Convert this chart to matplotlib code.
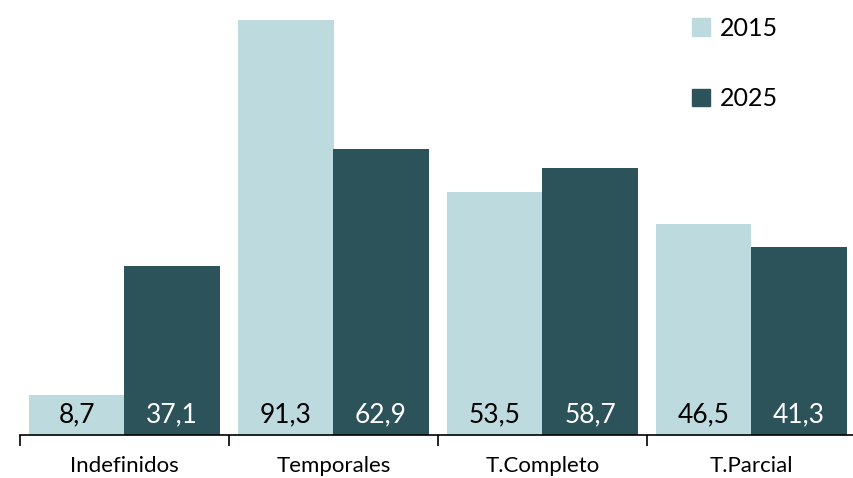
import numpy as np
import matplotlib
matplotlib.use('Agg')
import matplotlib.pyplot as plt
from matplotlib.patches import Patch

categories = ['Indefinidos', 'Temporales', 'T.Completo', 'T.Parcial']
v2015 = [8.7, 91.3, 53.5, 46.5]
v2025 = [37.1, 62.9, 58.7, 41.3]
years = ['2015', '2025']

c_light = '#bddadf'
c_dark = '#2d535a'

plt.rcParams['font.family'] = ['Lato', 'DejaVu Sans']

fig = plt.figure(figsize=(8.54, 4.78), dpi=100)
ax = fig.add_axes([20 / 854, 43 / 478, 836 / 854, 435 / 478])

x = np.arange(len(categories))
w = 0.455
ax.bar(x - w / 2, v2015, width=w, color=c_light)
ax.bar(x + w / 2, v2025, width=w, color=c_dark)

for i in range(len(categories)):
    ax.text(x[i] - w / 2, 1.8, f'{v2015[i]:.1f}'.replace('.', ','),
            ha='center', va='bottom', fontsize=19, color='black')
    ax.text(x[i] + w / 2, 1.8, f'{v2025[i]:.1f}'.replace('.', ','),
            ha='center', va='bottom', fontsize=19, color='white')

ax.set_xlim(-0.5, 3.5)
ax.set_ylim(0, 95.7)
ax.set_xticks([-0.5, 0.5, 1.5, 2.5, 3.5])
ax.set_xticklabels([])
ax.set_xticks(x, minor=True)
ax.set_xticklabels(categories, minor=True, fontsize=16)
ax.tick_params(axis='x', which='major', length=8, width=1.2, direction='out')
ax.tick_params(axis='x', which='minor', length=0, pad=15)
ax.set_yticks([])
for s in ['top', 'right', 'left']:
    ax.spines[s].set_visible(False)
ax.spines['bottom'].set_linewidth(1.2)

handles = [Patch(color=c_light, label=years[0]), Patch(color=c_dark, label=years[1])]
fig.legend(handles=handles, loc='upper left', bbox_to_anchor=(670 / 854, 1.012),
           frameon=False, fontsize=18, handlelength=0.7, handleheight=0.7,
           handletextpad=0.4, labelspacing=1.9)

fig.savefig('out.png', dpi=100)
